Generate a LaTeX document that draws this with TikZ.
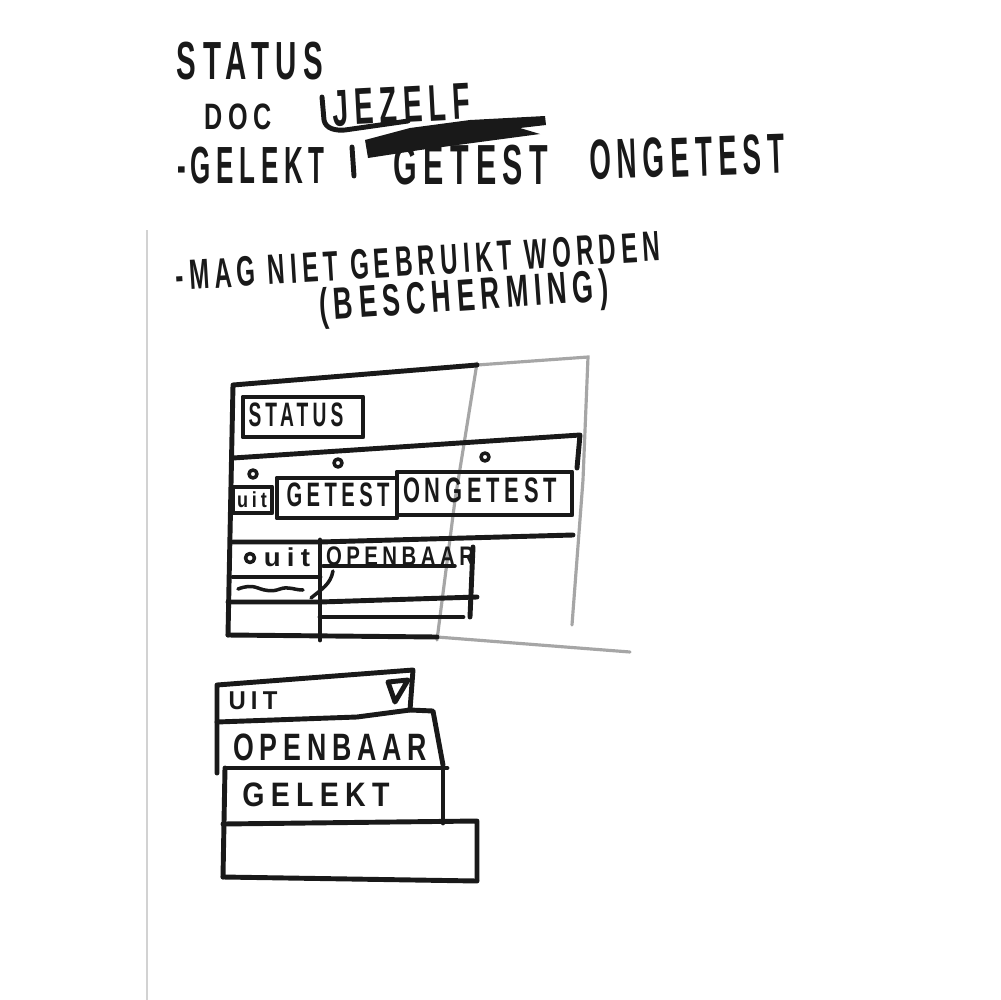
\documentclass[tikz,border=0pt]{standalone}
\usepackage{fontspec}
\setmainfont{Liberation Sans}
\usepackage{graphicx}
\newlength\pxunit
\setlength\pxunit{0.1mm}
% handwritten word, stretched to a width and height given in pixels
\newcommand\hand[3]{\resizebox*{#1\pxunit}{#2\pxunit}{\bfseries\addfontfeature{LetterSpace=22}#3}}

\begin{document}
\begin{tikzpicture}[
      x=0.1mm, y=-0.1mm,
      ink/.style={line width=1.4pt, line cap=round, line join=round, black!90},
      thinink/.style={ink, line width=1pt},
      pencil/.style={line width=0.9pt, line cap=round, gray!70},
      faint/.style={line width=0.5pt, gray!35},
      word/.style={inner sep=0pt, black!90},
      radio/.style={ink, line width=1pt},
    ]
      \fill[white] (0,0) rectangle (1000,1000);
      \useasboundingbox (0,0) rectangle (1000,1000);
      \draw[faint] (147,230) -- (147,1000);

      % notes at the top
      \node[word] (status) at (250,61) {\hand{146}{38}{STATUS}};
      \node[word] (doc) at (238,117) {\hand{67}{26}{DOC}};
      \node[word, rotate=3] (jezelf) at (401,105) {\hand{138}{36}{JEZELF}};
      \draw[ink] (322,97) -- (324,120) to[out=-80,in=185] (345,130) -- (408,121);
      \node[word] (gelekt) at (251,166) {\hand{147}{37}{-\,GELEKT}};
      \draw[ink] (352,147) -- (354,176);
      \fill[black!90] (365,140) -- (410,128) -- (470,120) -- (545,116) -- (546,125)
        -- (520,128) -- (540,134) -- (480,142) -- (420,150) -- (368,158) -- cycle;
      \node[word] (getest) at (471,165) {\hand{155}{40}{GETEST}};
      \node[word, rotate=2] (ongetest) at (687,157) {\hand{195}{40}{ONGETEST}};
      \node[word, rotate=3.5] (magniet) at (418,261) {\hand{485}{30}{-MAG NIET GEBRUIKT WORDEN}};
      \node[word, rotate=4] (bescherming) at (464,299) {\hand{290}{42}{(BESCHERMING)}};

      % first screen sketch
      \draw[pencil] (477,365) -- (588,357) -- (583,480) -- (572,625);
      \draw[pencil] (477,363) -- (455,500) -- (437,640);
      \draw[pencil] (437,637) -- (630,652);
      \draw[ink] (228,635) -- (437,637);
      \draw[ink] (477,365) -- (233,385) -- (228,635);
      \draw[ink] (243,397) rectangle (363,437);
      \node[word] (statusbox) at (296,415) {\hand{95}{24}{STATUS}};
      \draw[ink] (233,458) -- (580,435) -- (577,468);
      \draw[radio] (253,474) circle[radius=4];
      \draw[radio] (338,463) circle[radius=4];
      \draw[radio] (485,457) circle[radius=4];
      \draw[ink] (233,487) rectangle (272,513);
      \node[word] (uittab) at (252,500) {\hand{30}{16}{uit}};
      \draw[ink] (277,478) rectangle (397,518);
      \node[word] (getesttab) at (338,495) {\hand{103}{24}{GETEST}};
      \draw[ink] (397,472) rectangle (572,515);
      \node[word] (ongetesttab) at (480,490) {\hand{154}{25}{ONGETEST}};
      \draw[ink] (233,542) -- (320,542) -- (573,535);
      \draw[ink] (320,540) -- (320,640);
      \draw[radio] (250,558) circle[radius=4.5];
      \node[word] (uitrow) at (287,557) {\hand{46}{19}{uit}};
      \node[word] (openbaarrow) at (400,556) {\hand{148}{19}{OPENBAAR}};
      \draw[thinink] (323,566) -- (455,566);
      \draw[ink] (473,547) -- (470,617);
      \draw[ink] (233,577) -- (320,577);
      \draw[thinink] (238,589) to[out=20,in=160] (258,588) to[out=-20,in=200] (280,589)
        to[out=20,in=180] (303,590);
      \draw[thinink] (333,571) to[out=-100,in=40] (311,598);
      \draw[ink] (228,602) -- (320,602) -- (477,597);
      \draw[ink] (320,617) -- (463,617);

      % second screen sketch
      \draw[ink] (217,773) -- (217,685) -- (413,670) -- (410,710);
      \node[word] (uitsel) at (253,701) {\hand{49}{18}{UIT}};
      \draw[ink] (388,682) -- (408,680) -- (395,702) -- cycle;
      \draw[ink] (217,722) -- (357,717) -- (410,710) -- (433,711) -- (443,765);
      \node[word] (openbaarsel) at (330,747) {\hand{194}{27}{OPENBAAR}};
      \draw[ink] (227,768) -- (447,768);
      \draw[ink] (225,768) -- (223,877);
      \draw[ink] (443,767) -- (443,823);
      \node[word] (gelektsel) at (316,795) {\hand{147}{24}{GELEKT}};
      \draw[ink] (223,824) -- (477,821) -- (477,880);
      \draw[ink] (223,877) -- (477,881);
    \end{tikzpicture}
\end{document}
